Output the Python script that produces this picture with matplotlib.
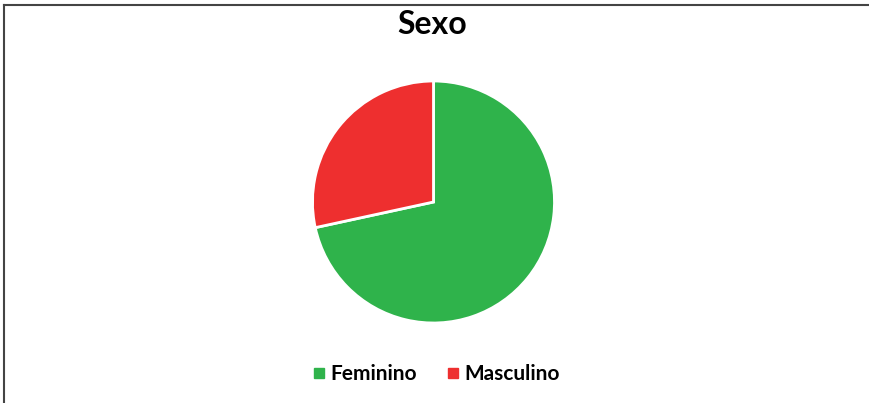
import matplotlib.pyplot as plt
from matplotlib.lines import Line2D

# data
labels = ['Feminino', 'Masculino']
values = [71.6, 28.4]
colors = ['#2FB34B', '#EE2F2F']

W, H = 870, 403
fig = plt.figure(figsize=(W / 100, H / 100), dpi=100)

# pie axes: centre (433, 202), radius ~121 px
cx, cy, r = 433.5, 202, 121
lim = 1.02
ax = fig.add_axes([(cx - r * lim) / W, (H - cy - r * lim) / H, 2 * r * lim / W, 2 * r * lim / H])
wedges, _ = ax.pie(values, colors=colors, startangle=90, counterclock=False,
                   wedgeprops=dict(edgecolor='white', linewidth=2))
ax.set_xlim(-lim, lim)
ax.set_ylim(-lim, lim)
ax.set_aspect('equal')

fig.text(432 / W, 1 - 25 / H, 'Sexo', ha='center', va='center',
         fontsize=23, fontweight='bold', family='Lato')

handles = [Line2D([], [], marker='s', linestyle='none', markersize=7,
                  markerfacecolor=c, markeredgecolor=c) for c in colors]
fig.legend(handles, labels, loc='center', bbox_to_anchor=(437 / W, 1 - 374 / H),
           ncol=2, frameon=False, handlelength=0.5, handletextpad=0.3, columnspacing=1.5,
           prop=dict(family='Lato', weight='bold', size=15))

# frame lines on top and left
fig.add_artist(Line2D([4.5 / W, 4.5 / W], [0, 1 - 4.5 / H], color='#444444', linewidth=1.5,
                      transform=fig.transFigure))
fig.add_artist(Line2D([4.5 / W, 1], [1 - 4.5 / H, 1 - 4.5 / H], color='#444444', linewidth=1.5,
                      transform=fig.transFigure))

fig.savefig('out.png', dpi=100)
